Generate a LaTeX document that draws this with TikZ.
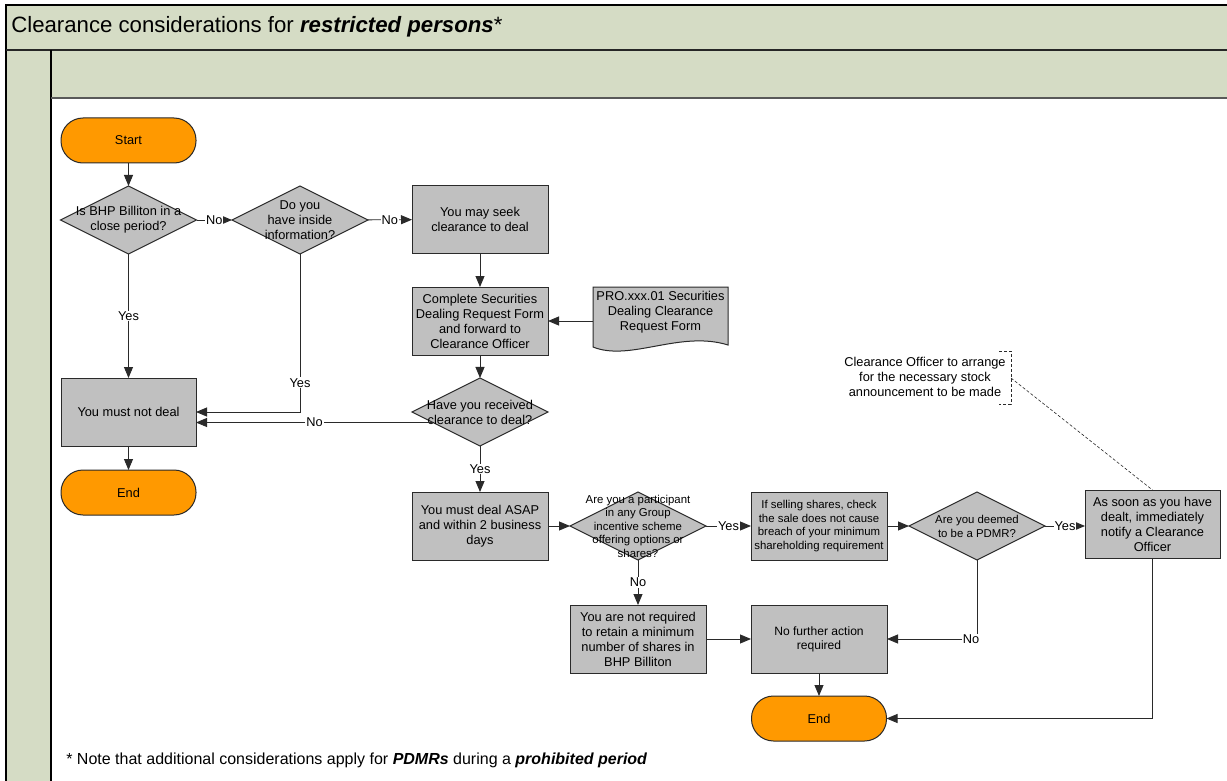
\documentclass[tikz,border=0pt]{standalone}
\usepackage{fontspec}
\setmainfont{Liberation Sans}
\usetikzlibrary{shapes.geometric,arrows.meta,calc}
\definecolor{band}{HTML}{D5DCC5}
\definecolor{boxg}{HTML}{C0C0C0}
\definecolor{orng}{HTML}{FF9900}
\definecolor{edgec}{HTML}{2A2A2A}
\begin{document}
\begin{tikzpicture}[x=1pt,y=-1pt,
  every node/.style={font=\fontsize{12.8}{15}\selectfont, outer sep=0pt},
  box/.style={rectangle, draw=edgec, line width=1pt, fill=boxg, minimum width=136pt, minimum height=68pt, align=center, inner sep=1pt},
  term/.style={rectangle, rounded corners=22pt, draw=edgec, line width=1pt, fill=orng, minimum width=135pt, minimum height=45pt},
  dia/.style={diamond, draw=edgec, line width=1pt, fill=boxg, minimum width=136pt, minimum height=68pt, inner sep=0pt},
  dtext/.style={align=center, inner sep=0pt},
  arr/.style={draw=edgec, line width=0.9pt, -{Triangle[length=11pt,width=9pt]}},
  lbl/.style={fill=white, inner sep=1pt},
  small/.style={font=\fontsize{11.4}{13.5}\selectfont},
]
\useasboundingbox (0,0) rectangle (1227,781);
% frame
\fill[band] (6,5) rectangle (1227,781);
\fill[white] (51,98) rectangle (1227,781);
\draw[line width=1.2pt, black] (1227,5) -- (6,5) -- (6,781);
\draw[line width=2pt, black!85] (6,50) -- (1227,50);
\draw[line width=1.2pt, black] (51,50) -- (51,781);
\draw[line width=1.8pt, black!65] (51,98) -- (1227,98);
\node[anchor=west, font=\fontsize{22.2}{26}\selectfont] (title) at (8,27) {Clearance considerations for \textbf{\textit{restricted persons}}*};
\node[anchor=west, font=\fontsize{16}{18}\selectfont] (note) at (63,760) {* Note that additional considerations apply for \textbf{\textit{PDMRs}} during a \textbf{\textit{prohibited period}}};

% nodes
\node[term] (start) at (128.5,140.5) {Start};
\node[dia, label={[dtext]center:Is BHP Billiton in a\\close period?}] (d1) at (128.5,220) {};
\node[dia, label={[dtext]center:Do you\\have inside\\information?}] (d2) at (300,220) {};
\node[box] (b1) at (480,219.5) {You may seek\\clearance to deal};
\node[box] (b2) at (480,321) {Complete Securities\\Dealing Request Form\\and forward to\\Clearance Officer};
\filldraw[fill=boxg, draw=edgec, line width=1pt] (593,287) -- (728,287) -- (728,345) .. controls (680,330) and (630,362) .. (593,347) -- cycle;
\node[align=center, minimum width=135pt, inner sep=0pt] (doc) at (660.5,312) {PRO.xxx.01 Securities\\Dealing Clearance\\Request Form};
\node[dia, label={[dtext]center:Have you received\\clearance to deal?}] (d3) at (480,412) {};
\node[box, minimum width=135pt] (mustnot) at (128.5,412) {You must not deal};
\node[term] (end1) at (128.5,492.5) {End};
\node[box] (b3) at (480,526) {You must deal ASAP\\and within 2 business\\days};
\node[dia, label={[dtext, small]center:Are you a participant\\in any Group\\incentive scheme\\offering options or\\shares?}] (d4) at (638,526) {};
\node[box, small] (b4) at (819,526) {If selling shares, check\\the sale does not cause\\breach of your minimum\\shareholding requirement};
\node[dia, label={[dtext, font=\fontsize{11.4}{14}\selectfont]center:Are you deemed\\to be a PDMR?}] (d5) at (977,526) {};
\node[box, minimum width=135pt] (b5) at (1152.5,524) {As soon as you have\\dealt, immediately\\notify a Clearance\\Officer};
\node[box] (b6) at (638,639) {You are not required\\to retain a minimum\\number of shares in\\BHP Billiton};
\node[box, font=\fontsize{12.1}{14}\selectfont] (b7) at (819,639) {No further action\\required};
\node[term] (end2) at (819,718.5) {End};
\node[align=center] (annot) at (925,377) {Clearance Officer to arrange\\for the necessary stock\\announcement to be made};
\coordinate (brk) at (1011,378);
\draw[densely dashed, line width=0.7pt, edgec] (999,351) -- (1011,351) -- (1011,404) -- (999,404);

% connectors
\draw[arr] (start) -- (d1);
\draw[arr] (d1) -- node[lbl]{No} (d2);
\draw[arr] (d2) -- node[lbl]{No} (b1);
\draw[arr] (d1) -- node[lbl]{Yes} (mustnot);
\draw[arr] (d2.south) |- node[lbl, pos=0.408]{Yes} (mustnot.east);
\draw[arr] (b1) -- (b2);
\draw[arr] (b2.east -| doc.west) -- (b2.east);
\draw[arr] (b2) -- (d3);
\draw[arr] ($(d3.center)+(-47,10.5)$) -- node[lbl]{No} ($(mustnot.east)+(0,10.5)$);
\draw[arr] (d3) -- node[lbl]{Yes} (b3);
\draw[arr] (b3) -- (d4);
\draw[arr] (d4) -- node[lbl]{Yes} (b4);
\draw[arr] (d4) -- node[lbl]{No} (b6);
\draw[arr] (b4) -- (d5);
\draw[arr] (d5.east) -- node[lbl]{Yes} (d5.east -| b5.west);
\draw[arr] (d5.south) |- node[lbl, pos=0.533]{No} (b7.east);
\draw[arr] (b6) -- (b7);
\draw[arr] (b7) -- (end2);
\draw[arr] (b5.south) |- (end2.east);
\draw[arr] (mustnot) -- (end1);
\draw[densely dashed, line width=0.6pt, edgec] (brk) -- (b5.north);
\end{tikzpicture}
\end{document}
